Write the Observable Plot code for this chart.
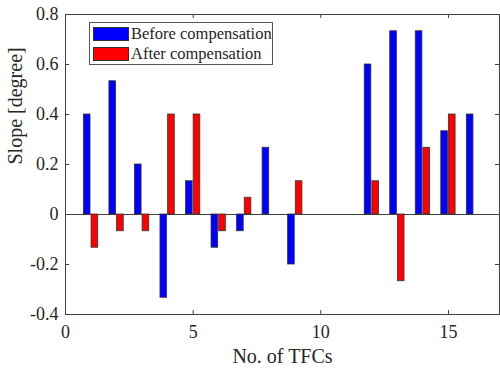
<!DOCTYPE html>
<html>
<head>
<meta charset="utf-8">
<script src="https://cdn.jsdelivr.net/npm/d3@7"></script>
<script src="https://cdn.jsdelivr.net/npm/@observablehq/plot@0.6"></script>
<style>
  html, body { margin: 0; padding: 0; background: #fff; }
  #wrap { position: relative; width: 500px; height: 375px; }
  #legend {
    position: absolute; left: 89px; top: 22px; width: 182px; height: 41px;
    border: 1px solid #555; background: #fff;
    font-family: "Liberation Serif", "DejaVu Serif", serif; font-size: 16.5px; color: #262626;
  }
  .item { position: absolute; left: 3px; height: 20px; display: flex; align-items: center; white-space: nowrap; }
  .sw { width: 34px; height: 12px; border: 1px solid #333; margin-right: 2px; }
</style>
</head>
<body>
<div id="wrap"></div>
<script>
const tfcs = [1, 2, 3, 4, 5, 6, 7, 8, 9, 10, 11, 12, 13, 14, 15, 16];
const beforeValues = [0.4, 0.533, 0.2, -0.333, 0.133, -0.133, -0.067, 0.267, -0.2, 0, 0, 0.6, 0.733, 0.733, 0.333, 0.4];
const afterValues = [-0.133, -0.067, -0.067, 0.4, 0.4, -0.067, 0.067, 0, 0.133, 0, 0, 0.133, -0.267, 0.267, 0.4, 0];
const seriesNames = ["Before compensation", "After compensation"];
const seriesColors = ["#0000ff", "#ff0000"];
const xTicks = [0, 5, 10, 15];
const yTicks = [-0.4, -0.2, 0, 0.2, 0.4, 0.6, 0.8];

const rows = tfcs.flatMap((t, i) => [
  {tfc: t, series: seriesNames[0], k: 0, v: beforeValues[i]},
  {tfc: t, series: seriesNames[1], k: 1, v: afterValues[i]}
]).filter(d => d.v !== 0);

const barW = 0.26;
const offs = [-0.28, 0.02];
const axisColor = "#404040";
const font = "Liberation Serif";

const chart = Plot.plot({
  width: 500,
  height: 375,
  marginLeft: 65,
  marginRight: 1,
  marginTop: 14,
  marginBottom: 61,
  style: {fontFamily: font, fontSize: "18px", color: "#262626", background: "#fff"},
  x: {domain: [0, 17]},
  y: {domain: [-0.4, 0.8]},
  color: {domain: seriesNames, range: seriesColors},
  marks: [
    Plot.ruleY([0], {stroke: axisColor, strokeWidth: 1}),
    Plot.rect(rows, {
      x1: d => d.tfc + offs[d.k],
      x2: d => d.tfc + offs[d.k] + barW,
      y1: 0,
      y2: "v",
      fill: "series",
      stroke: "#333",
      strokeWidth: 0.8
    }),
    Plot.ruleX(xTicks, {x: d => d, y1: -0.4, y2: -0.4 + 0.016, stroke: axisColor}),
    Plot.ruleX(xTicks, {x: d => d, y1: 0.8, y2: 0.8 - 0.016, stroke: axisColor}),
    Plot.ruleY(yTicks, {y: d => d, x1: 0, x2: 0.16, stroke: axisColor}),
    Plot.ruleY(yTicks, {y: d => d, x1: 17, x2: 17 - 0.16, stroke: axisColor}),
    Plot.axisX(xTicks, {
      anchor: "bottom", tickSize: 0, tickPadding: 11,
      tickFormat: d => String(d),
      label: null,
      fontSize: 18, fontFamily: font
    }),
    Plot.axisY(yTicks, {
      anchor: "left", tickSize: 0, tickPadding: 7,
      tickFormat: d => d === 0 ? "0" : d3.format(".1f")(d).replace("−", "-"),
      label: null,
      fontSize: 18, fontFamily: font
    }),
    Plot.text(["No. of TFCs"], {
      frameAnchor: "bottom", dy: 48, text: d => d,
      fontSize: 20, fontFamily: font, fill: "#262626", lineAnchor: "bottom"
    }),
    Plot.text(["Slope [degree]"], {
      frameAnchor: "left", dx: -50, rotate: -90, text: d => d,
      fontSize: 20, fontFamily: font, fill: "#262626"
    }),
    Plot.frame({stroke: axisColor, strokeWidth: 1})
  ]
});

const wrap = document.getElementById("wrap");
wrap.appendChild(chart);

const legend = document.createElement("div");
legend.id = "legend";
seriesNames.forEach((name, i) => {
  const item = document.createElement("div");
  item.className = "item";
  item.style.top = (1 + i * 20) + "px";
  const sw = document.createElement("div");
  sw.className = "sw";
  sw.style.background = seriesColors[i];
  const tx = document.createElement("span");
  tx.textContent = name;
  item.appendChild(sw);
  item.appendChild(tx);
  legend.appendChild(item);
});
wrap.appendChild(legend);
</script>
</body>
</html>
